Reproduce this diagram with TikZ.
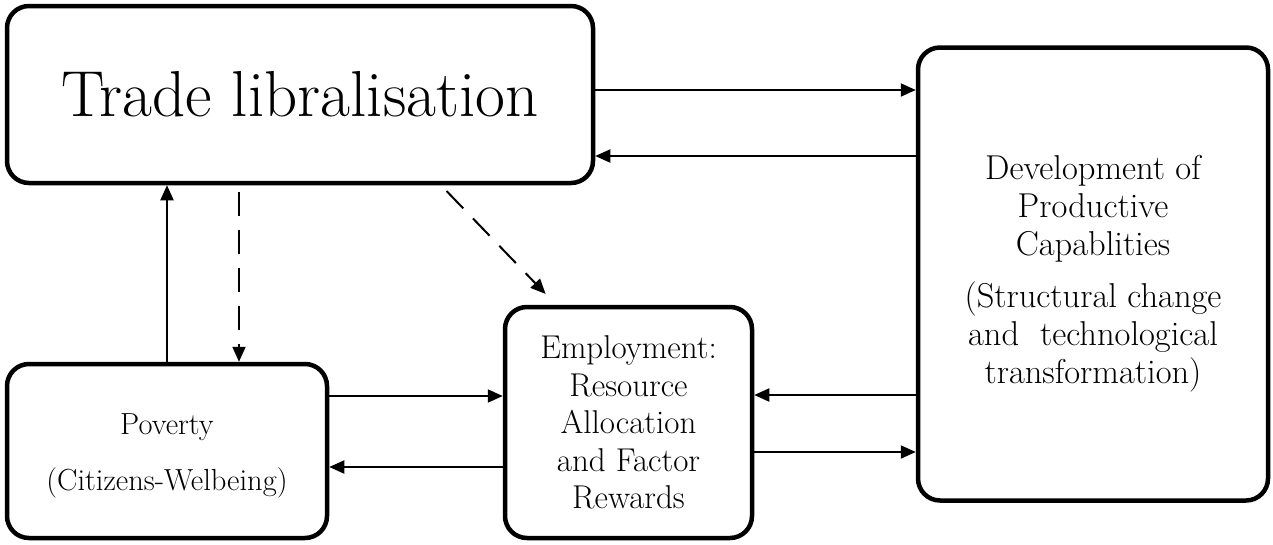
\documentclass[tikz,border=0pt]{standalone}
\usepackage{fontspec}
\usetikzlibrary{arrows.meta}
\begin{document}
\begin{tikzpicture}[x=1pt,y=-1pt,
  box/.style={draw=black,line width=4.5pt,rounded corners=22pt,inner sep=0pt,
    align=center,fill=white},
  label/.style={inner sep=0pt,align=center},
  conn/.style={line width=2pt,-{Triangle[length=15pt,width=13pt]}},
  dconn/.style={conn,dash pattern=on 24pt off 14pt}]
\useasboundingbox (0,0) rectangle (1273,544);
\node[box,minimum width=586pt,minimum height=177pt,
  font=\fontsize{65}{70}\selectfont] (trade) at (300,94.5) {Trade libralisation};
\node[box,minimum width=320pt,minimum height=174pt] (pov) at (167,451) {};
\node[label,font=\fontsize{30.5}{36}\selectfont] (povtext) at (167,456)
  {Poverty\\[20pt](Citizens-Welbeing)};
\node[box,minimum width=247pt,minimum height=231pt,
  font=\fontsize{33}{37.5}\selectfont] (emp) at (628.5,422.5)
  {Employment:\\Resource\\Allocation\\and Factor\\Rewards};
\node[box,minimum width=350pt,minimum height=453pt,
  font=\fontsize{34.5}{38}\selectfont] (dev) at (1093,274)
  {Development of\\Productive\\Capablities\\[14pt](Structural change\\and~ technological\\transformation)};
\draw[conn] (trade.east |- 0,90) -- (dev.west |- 0,90);
\draw[conn] (dev.west |- 0,156) -- (trade.east |- 0,156);
\draw[conn] (pov.north) -- (trade.south -| pov.north);
\draw[dconn,shorten <=7pt] (trade.south -| 239,0) -- (pov.north -| 239,0);
\draw[dconn,shorten <=8pt,shorten >=15pt] (trade.south -| 441,0) -- (emp.north -| 556,0);
\draw[conn] (pov.east |- 0,396) -- (emp.west |- 0,396);
\draw[conn] (emp.west |- 0,467) -- (pov.east |- 0,467);
\draw[conn] (dev.west |- 0,395) -- (emp.east |- 0,395);
\draw[conn] (emp.east |- 0,452) -- (dev.west |- 0,452);
\end{tikzpicture}
\end{document}
